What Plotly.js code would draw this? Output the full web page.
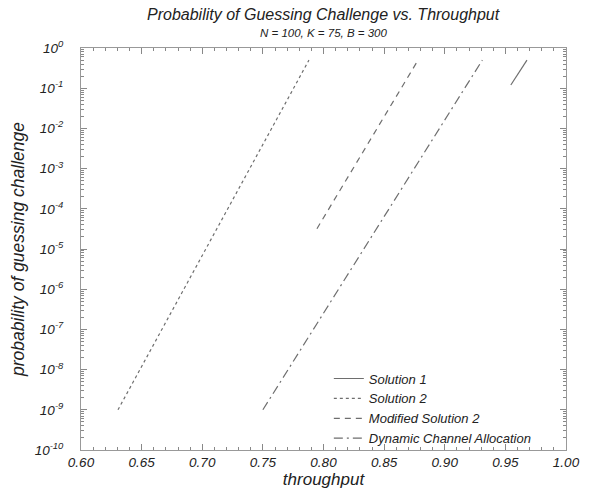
<!DOCTYPE html>
<html>
<head>
<meta charset="utf-8">
<script src="https://cdn.plot.ly/plotly-3.0.1.min.js"></script>
<style>html,body{margin:0;padding:0;background:#fff;}#chart{width:594px;height:498px;}</style>
</head>
<body>
<div id="chart"></div>
<script>
// Data
const sol1X = [0.9545, 0.9678];
const sol1Y = [0.12, 0.5];
const sol2X = [0.6305, 0.788];
const sol2Y = [1e-9, 0.5];
const modSol2X = [0.7946, 0.878];
const modSol2Y = [3.2e-5, 0.5];
const dcaX = [0.750, 0.931];
const dcaY = [1e-9, 0.5];
const seriesNames = ["Solution 1", "Solution 2", "Modified Solution 2", "Dynamic Channel Allocation"];
const yTickVals = [1, 1e-1, 1e-2, 1e-3, 1e-4, 1e-5, 1e-6, 1e-7, 1e-8, 1e-9, 1e-10];
const yTickText = ["10<sup>0</sup>", "10<sup>-1</sup>", "10<sup>-2</sup>", "10<sup>-3</sup>", "10<sup>-4</sup>", "10<sup>-5</sup>", "10<sup>-6</sup>", "10<sup>-7</sup>", "10<sup>-8</sup>", "10<sup>-9</sup>", "10<sup>-10</sup>"];
const xTickVals = [0.60, 0.65, 0.70, 0.75, 0.80, 0.85, 0.90, 0.95, 1.00];
const xTickText = ["0.60", "0.65", "0.70", "0.75", "0.80", "0.85", "0.90", "0.95", "1.00"];

const lineColor = "#6e6e6e";
const fam = "Liberation Sans, Arial, sans-serif";
const traces = [
  {x: sol1X, y: sol1Y, name: seriesNames[0], mode: "lines", line: {color: lineColor, width: 1.2, dash: "solid"}},
  {x: sol2X, y: sol2Y, name: seriesNames[1], mode: "lines", line: {color: lineColor, width: 1.2, dash: "dot"}},
  {x: modSol2X, y: modSol2Y, name: seriesNames[2], mode: "lines", line: {color: lineColor, width: 1.2, dash: "6px,5px"}},
  {x: dcaX, y: dcaY, name: seriesNames[3], mode: "lines", line: {color: lineColor, width: 1.2, dash: "9px,4px,2px,4px"}}
];

const axisCommon = {
  showline: true, linecolor: "#999", linewidth: 1, mirror: "ticks",
  ticks: "inside", ticklen: 6, tickcolor: "#888", showgrid: false, zeroline: false,
  tickfont: {family: fam, size: 13.5, style: "italic", color: "#222"}
};

const layout = {
  width: 594, height: 498,
  margin: {l: 81, r: 28, t: 48, b: 48},
  paper_bgcolor: "#fff", plot_bgcolor: "#fff",
  showlegend: true,
  legend: {x: 0.511, y: 0.215, xanchor: "left", yanchor: "top", bgcolor: "rgba(0,0,0,0)",
           font: {family: fam, size: 13, style: "italic", color: "#222"}, tracegroupgap: 0},
  xaxis: Object.assign({}, axisCommon, {
    range: [0.60, 1.00], tickvals: xTickVals, ticktext: xTickText,
    minor: {dtick: 0.01, ticks: "inside", ticklen: 3, tickcolor: "#888", showgrid: false},
    title: {text: "throughput", standoff: 2, font: {family: fam, size: 17, style: "italic", color: "#222"}}
  }),
  yaxis: Object.assign({}, axisCommon, {
    type: "log", range: [-10, 0], tickvals: yTickVals, ticktext: yTickText,
    ticklabelstandoff: 14,
    minor: {dtick: "D1", ticks: "inside", ticklen: 3, tickcolor: "#888", showgrid: false},
    title: {text: "probability of guessing challenge", standoff: 5, font: {family: fam, size: 17.5, style: "italic", color: "#222"}}
  }),
  annotations: [
    {text: "Probability of Guessing Challenge vs. Throughput", xref: "paper", yref: "paper", x: 0.5, y: 1, yshift: 23,
     showarrow: false, xanchor: "center", yanchor: "bottom", font: {family: fam, size: 16, style: "italic", color: "#222"}},
    {text: "N = 100, K = 75, B = 300", xref: "paper", yref: "paper", x: 0.5, y: 1, yshift: 7,
     showarrow: false, xanchor: "center", yanchor: "bottom", font: {family: fam, size: 11.5, style: "italic", color: "#222"}}
  ]
};

Plotly.newPlot("chart", traces, layout, {displayModeBar: false, staticPlot: true});
</script>
</body>
</html>
